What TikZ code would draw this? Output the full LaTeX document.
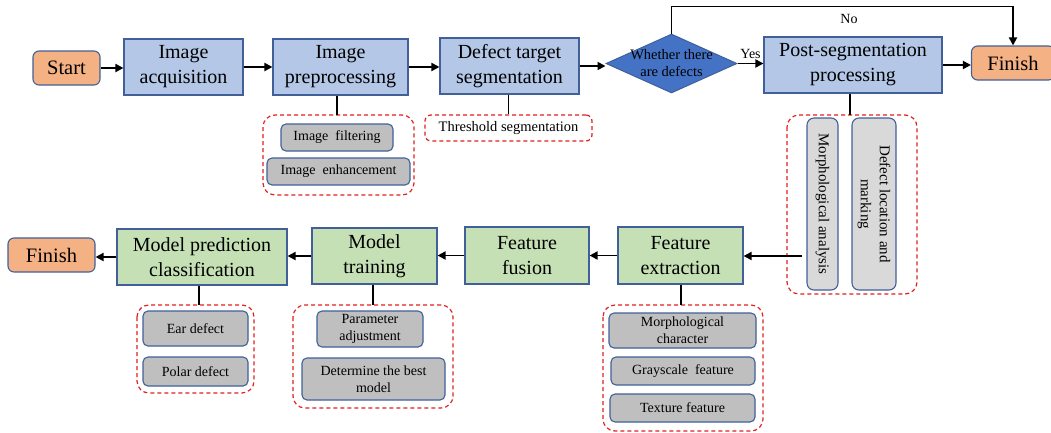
\documentclass[tikz,border=0pt]{standalone}
\usepackage{fontspec}
\setmainfont{Liberation Serif}
\usetikzlibrary{shapes.geometric,arrows.meta}
\definecolor{bbord}{HTML}{41609A}
\definecolor{bfill}{HTML}{B4C7E7}
\definecolor{gfill}{HTML}{C5E0B4}
\definecolor{ofill}{HTML}{F4B183}
\definecolor{grfill}{HTML}{BFBFBF}
\definecolor{lgfill}{HTML}{D9D9D9}
\definecolor{dfill}{HTML}{4472C4}
\definecolor{dred}{HTML}{E02020}
\tikzset{
  base/.style={draw=bbord, line width=1.1pt, align=center, inner sep=1pt},
  mainbox/.style={base, fill=bfill, font=\fontsize{20}{25}\selectfont},
  greenbox/.style={base, fill=gfill, font=\fontsize{20}{25}\selectfont},
  termbox/.style={base, fill=ofill, rounded corners=6pt, font=\fontsize{20.5}{24}\selectfont},
  graybox/.style={base, fill=grfill, rounded corners=5pt, font=\fontsize{14}{17}\selectfont},
  lgraybox/.style={base, fill=lgfill, rounded corners=7pt, font=\fontsize{15}{19}\selectfont},
  grp/.style={draw=dred, dashed, dash pattern=on 4pt off 3pt, line width=1.2pt, rounded corners=12pt},
  arr/.style={line width=1.8pt, -{Triangle[length=8pt,width=8pt]}},
  conn/.style={line width=1.1pt},
  lab/.style={font=\fontsize{14}{16}\selectfont},
}
\begin{document}
\begin{tikzpicture}[x=1pt,y=-1pt]
\useasboundingbox (0,0) rectangle (1051,432);
% top row
\node[termbox, minimum width=67pt, minimum height=34pt] (start) at (66.5,68) {Start};
\node[mainbox, minimum width=119pt, minimum height=56pt] (acq) at (183.5,67) {Image\\acquisition};
\node[mainbox, minimum width=135pt, minimum height=56pt] (pre) at (340.5,67) {Image\\preprocessing};
\node[mainbox, minimum width=139pt, minimum height=56pt] (seg) at (509.5,66) {Defect target\\segmentation};
\node[diamond, draw=bbord, fill=dfill, line width=1pt, inner sep=0pt, minimum width=131pt, minimum height=59pt] (dia) at (671.5,63.5) {};
\node[align=center, font=\fontsize{14.5}{17}\selectfont, inner sep=0pt] (diatext) at (dia.center) {Whether there\\are defects};
\node[mainbox, minimum width=178pt, minimum height=56pt] (post) at (853,65) {Post-segmentation\\processing};
\node[termbox, minimum width=83pt, minimum height=34pt] (fin1) at (1013,63) {Finish};

\draw[arr] (start.east) -- (start.east -| acq.west);
\draw[arr] (acq.east) -- (acq.east -| pre.west);
\draw[arr] (pre.east) -- (pre.east -| seg.west);
\draw[arr] (seg.east) -- (seg.east -| dia.west);
\draw[arr] (dia.east) -- (dia.east -| post.west) node[midway, above=1pt, lab] {Yes};
\draw[arr] (dia.north) -- ++(0,-27) -| (fin1.north);
\draw[arr] (post.east) -- (post.east -| fin1.west);
\node[lab] (nolab) at (849,19) {No};

% groups top
\draw[grp] (263,115) rectangle (414,195);
\coordinate (g1n) at (337,115);
\node[graybox, minimum width=112pt, minimum height=27pt] (filt) at (337,137.5) {Image\ \ filtering};
\node[graybox, minimum width=143pt, minimum height=27pt] (enh) at (338.5,171.5) {Image\ \ enhancement};
\draw[conn] (pre.south -| g1n) -- (g1n);

\node[grp, minimum width=167pt, minimum height=26pt, font=\fontsize{14.5}{17}\selectfont, rounded corners=6pt] (thr) at (508.5,128) {Threshold segmentation};
\draw[conn] (seg.south -| thr.north) -- (thr.north);

\draw[grp] (787,115) rectangle (917,294);
\coordinate (g3n) at (850,115);
\draw[conn] (post.south -| g3n) -- (g3n);
\node[lgraybox, rotate=-90, minimum width=172pt, minimum height=31pt] (morph) at (822.5,204) {Morphological analysis};
\node[lgraybox, rotate=-90, minimum width=172pt, minimum height=44pt] (defloc) at (874,204) {Defect location and\\marking};

% bottom row
\node[greenbox, minimum width=125pt, minimum height=57pt] (fe) at (680.5,255.5) {Feature\\extraction};
\node[greenbox, minimum width=124pt, minimum height=57pt] (ff) at (527,255.5) {Feature\\fusion};
\node[greenbox, minimum width=125pt, minimum height=56pt] (mt) at (374.5,256) {Model\\training};
\node[greenbox, minimum width=170pt, minimum height=56pt] (mp) at (202,257) {Model prediction\\classification};
\node[termbox, minimum width=87pt, minimum height=34pt] (fin2) at (51.5,255) {Finish};

\coordinate (pa) at (802,256);
\draw[arr] (pa) -- (pa -| fe.east);
\draw[arr] (fe.west) -- (fe.west -| ff.east);
\draw[arr] (ff.west) -- (ff.west -| mt.east);
\draw[arr] (mt.west) -- (mt.west -| mp.east);
\draw[arr] (mp.west) -- (mp.west -| fin2.east);

% groups bottom
\draw[grp] (137,305) rectangle (254,393);
\coordinate (g4n) at (199,305);
\draw[conn] (mp.south -| g4n) -- (g4n);
\node[graybox, minimum width=105pt, minimum height=35pt] (ear) at (195.5,328.5) {Ear defect};
\node[graybox, minimum width=105pt, minimum height=29pt] (polar) at (195.5,371.5) {Polar defect};

\draw[grp] (293,305) rectangle (453,408);
\coordinate (g5n) at (373,305);
\draw[conn] (mt.south -| g5n) -- (g5n);
\node[graybox, minimum width=106pt, minimum height=36pt] (param) at (370,329) {Parameter\\adjustment};
\node[graybox, minimum width=143pt, minimum height=42pt] (best) at (373.5,379) {Determine the best\\model};

\draw[grp] (603,305) rectangle (763,431);
\coordinate (g6n) at (681,305);
\draw[conn] (fe.south -| g6n) -- (g6n);
\node[graybox, minimum width=147pt, minimum height=35pt] (mchar) at (682.5,330.5) {Morphological\\character};
\node[graybox, minimum width=144pt, minimum height=28pt] (gray) at (683,371) {Grayscale\ \ feature};
\node[graybox, minimum width=145pt, minimum height=28pt] (tex) at (682.5,408) {Texture feature};
\end{tikzpicture}
\end{document}
